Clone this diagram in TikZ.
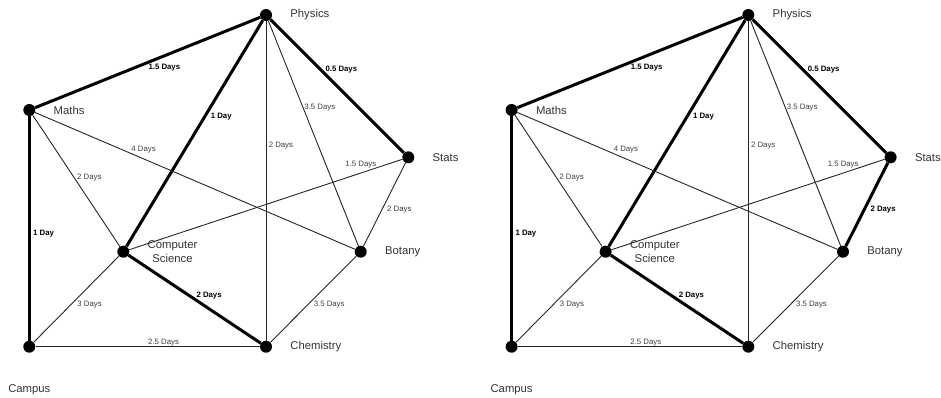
\documentclass[tikz,border=0pt]{standalone}
\usepackage{fontspec}
\setmainfont{Liberation Sans}
\tikzset{
  dot/.style={circle,fill=black,inner sep=0pt,minimum size=12pt},
  nlab/.style={text=black!80,inner sep=0pt,font=\fontsize{11.3}{13.3}\selectfont,align=center},
  thinedge/.style={draw=black!85,line width=0.9pt},
  thickedge/.style={draw=black,line width=3pt},
  thinlbl/.style={anchor=west,inner sep=0pt,text=black!75,font=\fontsize{7.8}{9}\selectfont},
  thicklbl/.style={anchor=west,inner sep=0pt,text=black,font=\bfseries\fontsize{7.8}{9}\selectfont},
}
\newcommand\studygraph[4]{%
\begin{scope}[xshift=#2]
  \node[dot,label={[nlab]right:Physics}] (#1phy) at (266,15) {};
  \node[dot,label={[nlab]right:Maths}] (#1mat) at (29.3,110) {};
  \node[dot,label={[nlab]right:Stats}] (#1sta) at (408.3,157.3) {};
  \node[dot,label={[nlab]right:Computer\\Science}] (#1com) at (123.3,251.7) {};
  \node[dot,label={[nlab]right:Botany}] (#1bot) at (360.7,251.7) {};
  \node[dot,label={[nlab,label distance=31pt]below:Campus}] (#1cam) at (29.3,346.7) {};
  \node[dot,label={[nlab]right:Chemistry}] (#1che) at (266,346.7) {};
  \draw[thickedge] (#1mat) -- (#1phy) node[thicklbl] at (147,67.3) {1.5 Days};
  \draw[thickedge] (#1phy) -- (#1com) node[thicklbl] at (209.3,116.7) {1 Day};
  \draw[thinedge] (#1phy) -- (#1che) node[thinlbl] at (268.3,145.3) {2 Days};
  \draw[thinedge] (#1phy) -- (#1bot) node[thinlbl] at (304,107.3) {3.5 Days};
  \draw[thickedge] (#1phy) -- (#1sta) node[thicklbl] at (324,69.3) {0.5 Days};
  \draw[thinedge] (#1sta) -- (#1com) node[thinlbl] at (345,164.3) {1.5 Days};
  \draw[thinedge] (#1mat) -- (#1bot) node[thinlbl] at (131,149.3) {4 Days};
  \draw[thinedge] (#1mat) -- (#1com) node[thinlbl] at (76.7,177.3) {2 Days};
  \draw[thickedge] (#1mat) -- (#1cam) node[thicklbl] at (31.7,233.3) {1 Day};
  \draw[thinedge] (#1com) -- (#1cam) node[thinlbl] at (77,304.3) {3 Days};
  \draw[thickedge] (#1com) -- (#1che) node[thicklbl] at (195,295.3) {2 Days};
  \draw[thinedge] (#1cam) -- (#1che) node[thinlbl] at (147.7,342.7) {2.5 Days};
  \draw[#3] (#1sta) -- (#1bot) node[#4] at (386.7,209.3) {2 Days};
  \draw[thinedge] (#1bot) -- (#1che) node[thinlbl] at (313.3,304.3) {3.5 Days};
\end{scope}}
\begin{document}
\begin{tikzpicture}[x=1pt,y=-1pt,label distance=18pt]
  \useasboundingbox (0,0) rectangle (941,397);
  \fill[white] (0,0) rectangle (941,397);
  \studygraph{L}{0pt}{thinedge}{thinlbl}
  \studygraph{R}{482.3pt}{thickedge}{thicklbl}
\end{tikzpicture}
\end{document}
